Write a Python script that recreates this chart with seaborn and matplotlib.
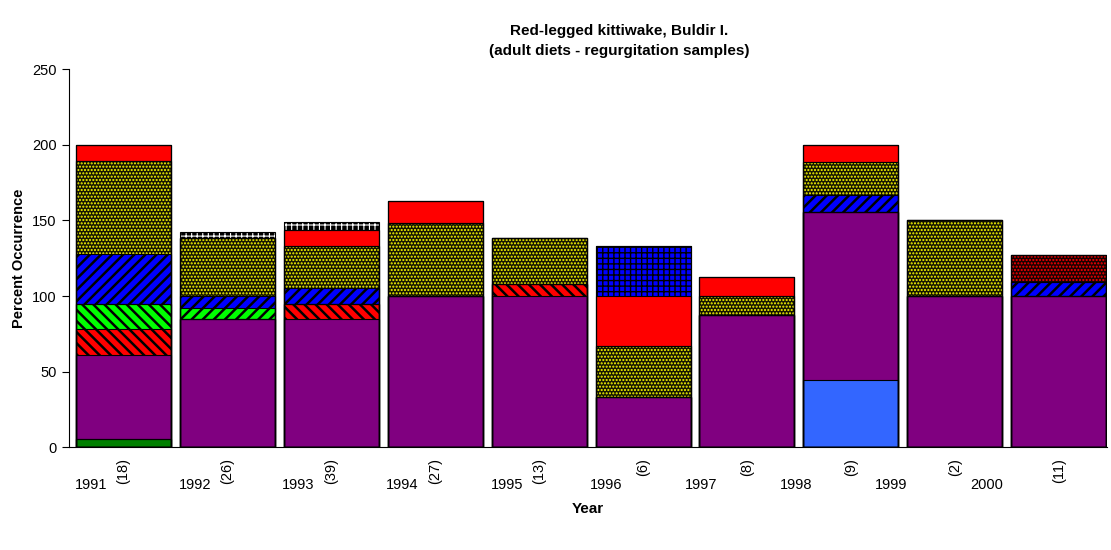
import matplotlib
matplotlib.use('Agg')
import numpy as np
import pandas as pd
import matplotlib.pyplot as plt
import seaborn as sns

# ---- data (percent occurrence by prey group, stacked bottom -> top) ----
years = ['1991', '1992', '1993', '1994', '1995', '1996', '1997', '1998', '1999', '2000']
sample_sizes = [18, 26, 39, 27, 13, 6, 8, 9, 2, 11]

green_solid = [5.6, 0, 0, 0, 0, 0, 0, 0, 0, 0]
light_blue = [0, 0, 0, 0, 0, 0, 0, 44.4, 0, 0]
purple = [55.6, 84.6, 84.6, 100, 100, 33.3, 87.5, 111.1, 100, 100]
red_hatch = [16.7, 0, 10.3, 0, 7.7, 0, 0, 0, 0, 0]
green_hatch_a = [16.7, 0, 0, 0, 0, 0, 0, 0, 0, 0]
green_hatch_b = [0, 7.7, 0, 0, 0, 0, 0, 0, 0, 0]
blue_hatch = [33.3, 7.7, 10.3, 0, 0, 0, 0, 11.1, 0, 9.1]
yellow_dots = [61.1, 38.5, 28.2, 48.1, 30.8, 33.3, 12.5, 22.2, 50, 0]
darkred_dots = [0, 0, 0, 0, 0, 0, 0, 0, 0, 18.2]
red_solid = [11.1, 0, 10.3, 14.8, 0, 33.3, 12.5, 11.1, 0, 0]
blue_grid = [0, 0, 0, 0, 0, 33.3, 0, 0, 0, 0]
bw_grid = [0, 3.8, 5.1, 0, 0, 0, 0, 0, 0, 0]

layers = pd.DataFrame({
    'green_solid': green_solid, 'light_blue': light_blue, 'purple': purple,
    'red_hatch': red_hatch, 'green_hatch_a': green_hatch_a,
    'green_hatch_b': green_hatch_b, 'blue_hatch': blue_hatch,
    'yellow_dots': yellow_dots, 'darkred_dots': darkred_dots,
    'red_solid': red_solid, 'blue_grid': blue_grid, 'bw_grid': bw_grid,
}, index=years)

# face colour, hatch colour, hatch pattern, hatch line width
styles = {
    'green_solid': ('#008000', '#008000', '', 1.0),
    'light_blue': ('#3366FF', '#3366FF', '', 1.0),
    'purple': ('#800080', '#800080', '', 1.0),
    'red_hatch': ('#FF0000', 'black', '\\\\\\', 1.8),
    'green_hatch_a': ('#00FF00', 'black', '\\\\\\', 1.8),
    'green_hatch_b': ('#00FF00', 'black', '///', 1.8),
    'blue_hatch': ('#0000FF', 'black', '///', 1.8),
    'yellow_dots': ('#141400', '#FFFF00', '.....', 1.0),
    'darkred_dots': ('#1a0000', '#FF0000', '.....', 1.0),
    'red_solid': ('#FF0000', '#FF0000', '', 1.0),
    'blue_grid': ('#0000FF', 'black', '+++', 1.0),
    'bw_grid': ('black', 'white', '+++', 0.8),
}

BAR_W = 0.914
# left edge (figure pixels) of the year labels in the second label row
year_label_px = [75, 179, 282, 386, 491, 590, 685, 780, 875, 970]

sns.set_theme(style='white')
plt.rcParams['font.family'] = ['Liberation Sans', 'DejaVu Sans']
plt.rcParams['text.color'] = 'black'
plt.rcParams['axes.labelcolor'] = 'black'
plt.rcParams['xtick.color'] = 'black'
plt.rcParams['ytick.color'] = 'black'

fig = plt.figure(figsize=(11.11, 5.5), dpi=100)
ax = fig.add_axes([0.062, 0.187, 0.934, 0.687])

cum = layers.cumsum(axis=1)

# draw cumulative totals from the top layer down, each one covering the ones below
for name in reversed(layers.columns):
    face, hcol, hatch, hlw = styles[name]
    with plt.rc_context({'hatch.linewidth': hlw}):
        sns.barplot(x=years, y=cum[name].values, color=face, edgecolor=hcol,
                    hatch=hatch, linewidth=0, width=BAR_W, saturation=1, ax=ax)

# black outlines of every segment
for name in layers.columns:
    sns.barplot(x=years, y=cum[name].values, fill=False, color='black',
                linewidth=0.8, width=BAR_W, ax=ax)

ax.set_ylim(0, 250)
ax.set_yticks(np.arange(0, 251, 50))
ax.set_xlim(-0.525, 9.46)
ax.set_xticks(range(len(years)))
ax.set_xticklabels([f'({n})' for n in sample_sizes], rotation=90, va='top', fontsize=10.5)
ax.tick_params(axis='x', length=0, pad=8)
ax.tick_params(axis='y', length=5, width=0.8, color='black', left=True, labelsize=10.5, pad=4)

for side in ['top', 'right']:
    ax.spines[side].set_visible(False)
for side in ['left', 'bottom']:
    ax.spines[side].set_color('black')
    ax.spines[side].set_linewidth(0.8)

# year labels sit on a second row under the sample sizes
for yr, px in zip(years, year_label_px):
    ax.annotate(yr, xy=(px, 0), xycoords=('figure pixels', 'axes fraction'),
                xytext=(0, -38), textcoords='offset pixels', ha='left', va='center',
                fontsize=10.5)

ax.set_xlabel('Year', fontsize=11, fontweight='bold', labelpad=13)
ax.set_ylabel('Percent Occurrence', fontsize=10.5, fontweight='bold', labelpad=4)
ax.set_title('Red-legged kittiwake, Buldir I.\n(adult diets - regurgitation samples)',
             fontsize=11, fontweight='bold', x=0.53, pad=10, linespacing=1.55)

fig.savefig('out.png', dpi=100)
